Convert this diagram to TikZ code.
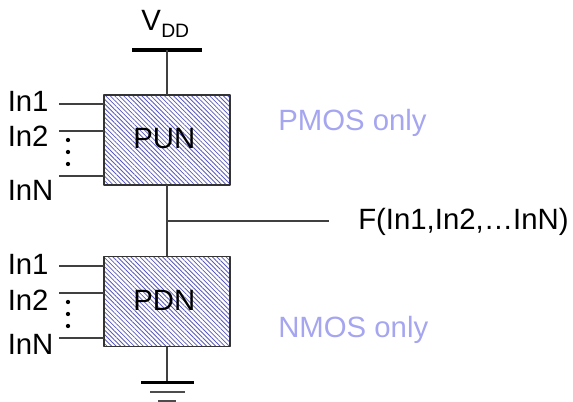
\documentclass[tikz,border=0pt]{standalone}
\usepackage{fontspec}
\setmainfont{Liberation Sans}
\usetikzlibrary{patterns.meta}
\definecolor{hatch}{RGB}{90,90,190}
\definecolor{tech}{RGB}{165,165,240}
\newcommand{\netlab}[1]{\raisebox{2pt}{#1}\kern 4pt}
\tikzset{
 wire/.style={line width=1.1pt,draw=black!75},
 bar/.style={line width=2.8pt,draw=black,line cap=butt},
 net/.style={draw=black!80,line width=1.2pt,minimum width=94.5pt,minimum height=67.5pt,inner sep=0pt,
  font=\fontsize{22}{22}\selectfont,
  preaction={fill=white},
  pattern={Lines[angle=-45,distance=2.4pt,line width=.6pt]},pattern color=hatch},
 lbl/.style={font=\fontsize{22}{22}\selectfont,inner sep=0pt,anchor=base west},
 techlbl/.style={lbl,text=tech},
 dotmark/.style={circle,fill=black,inner sep=0pt,minimum size=3.2pt}
}
\begin{document}
\begin{tikzpicture}[x=0.75pt,y=-0.75pt,line join=round]
 \useasboundingbox (0,0) rectangle (573,402);
 % the two networks
 \node[net] (pun) at (167,140) {\netlab{PUN}};
 \node[net] (pdn) at (167,301.5) {\netlab{PDN}};
 % supply and ground
 \coordinate (vddl) at (132,50); \coordinate (vddr) at (202,50);
 \coordinate (vdd) at (167,50);
 \coordinate (gnd) at (167,382.5);
 \coordinate (out) at (167,221); \coordinate (outr) at (329,221);
 \draw[bar] (vddl)--(vddr);
 \draw[wire] (vdd)--(pun.north) (pun.south)--(pdn.north) (pdn.south)--(gnd) (out)--(outr);
 \draw[bar,line width=2.4pt] (141,382.5)--(194,382.5);
 \draw[line width=1.5pt,draw=black!70] (150,391.5)--(185,391.5);
 \draw[line width=1.5pt,draw=black!70] (158,401)--(176,401);
 % inputs
 \foreach \net/\dy in {pun/0,pdn/162}{
  \foreach \y/\lab in {104/a,131/b,176/c}{
   \coordinate (\net\lab) at (59,\y+\dy);
   \coordinate (\net\lab e) at (104,\y+\dy);
   \draw[wire] (\net\lab)--(\net\lab e);
  }
  \foreach \y/\lab in {140/x,152/y,164/z}
   \node[dotmark] (\net\lab) at (68,\y+\dy) {};
 }
 \node[lbl] (ina) at (7.5,111.5) {In1};
 \node[lbl] (inb) at (7.5,147) {In2};
 \node[lbl] (inc) at (7.5,201) {InN};
 \node[lbl] (ind) at (7.5,274) {In1};
 \node[lbl] (ine) at (7.5,310) {In2};
 \node[lbl] (inf) at (7.5,354) {InN};
 \node[lbl] (vddt) at (141,31) {V};
 \node[font=\fontsize{14.5}{14.5}\selectfont,inner sep=0pt,anchor=base west] (vdds) at (161,38) {DD};
 \node[lbl] (ftxt) at (358,229) {F(In1,In2,…InN)};
 \node[techlbl] (pmos) at (278,131) {PMOS only};
 \node[techlbl] (nmos) at (278,337) {NMOS only};
\end{tikzpicture}
\end{document}
